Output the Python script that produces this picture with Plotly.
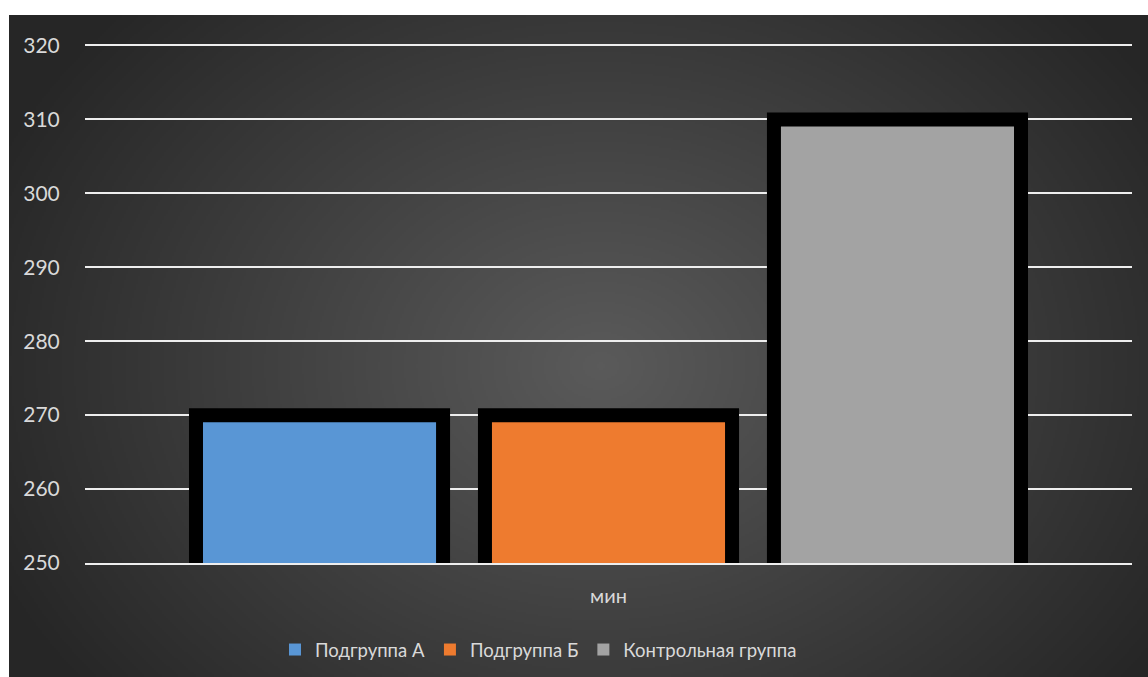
import base64
import struct
import zlib

import numpy as np
import plotly.graph_objects as go

# ---- data -------------------------------------------------------------
categories = ["мин"]
series_names = ["Подгруппа А", "Подгруппа Б", "Контрольная группа"]
series_values = [[270], [270], [310]]
series_colors = ["#5996d5", "#ee7b2f", "#a3a3a3"]
y_ticks = [250, 260, 270, 280, 290, 300, 310, 320]

# ---- page geometry ----------------------------------------------------
W, H = 1148, 677
M_L, M_R, M_T, M_B = 85, 16, 44, 114
plot_w = W - M_L - M_R
plot_h = H - M_T - M_B
TEXT = "#d9d9d9"
FONT = "Lato"


def radial_png(w, h, cx, cy, rx, ry, inner, outer):
    """Encode a soft elliptical gradient as a PNG data URI."""
    ys, xs = np.mgrid[0:h, 0:w].astype(float)
    r = np.sqrt(((xs - cx) / rx) ** 2 + ((ys - cy) / ry) ** 2)
    t = np.clip(r, 0, 1)[..., None]
    inner = np.array(inner, float)
    outer = np.array(outer, float)
    img = (inner * (1 - t) + outer * t).round().astype(np.uint8)
    raw = b"".join(b"\x00" + img[i].tobytes() for i in range(h))

    def chunk(tag, data):
        return (struct.pack(">I", len(data)) + tag + data
                + struct.pack(">I", zlib.crc32(tag + data) & 0xFFFFFFFF))

    png = (b"\x89PNG\r\n\x1a\n"
           + chunk(b"IHDR", struct.pack(">IIBBBBB", w, h, 8, 2, 0, 0, 0))
           + chunk(b"IDAT", zlib.compress(raw, 9))
           + chunk(b"IEND", b""))
    return "data:image/png;base64," + base64.b64encode(png).decode()


# background panel: dark with a lighter centre
bg_x0, bg_y0 = 9, 15
bg_w, bg_h = W - bg_x0, H - bg_y0
bg_src = radial_png(bg_w // 2, bg_h // 2,
                    cx=295, cy=175, rx=330, ry=260,
                    inner=(0x5a, 0x5a, 0x5a), outer=(0x26, 0x26, 0x26))

fig = go.Figure()

for name, vals, col in zip(series_names, series_values, series_colors):
    fig.add_trace(go.Bar(
        x=categories, y=vals, name=name,
        marker=dict(color=col, line=dict(color="#000000", width=14)),
        showlegend=False, hoverinfo="skip",
    ))

# legend entries as plain coloured squares
for name, col in zip(series_names, series_colors):
    fig.add_trace(go.Scatter(
        x=[None], y=[None], mode="markers", name=name,
        marker=dict(symbol="square", size=12, color=col),
    ))

fig.update_layout(
    width=W, height=H,
    margin=dict(l=M_L, r=M_R, t=M_T, b=M_B, pad=0, autoexpand=False),
    paper_bgcolor="#ffffff",
    plot_bgcolor="rgba(0,0,0,0)",
    barmode="group",
    bargap=0.172,
    bargroupgap=0.145,
    font=dict(family=FONT, size=21, color=TEXT),
    showlegend=True,
    legend=dict(
        orientation="h", x=0.5 - 70 / plot_w, xanchor="center",
        y=(plot_h - (650 - M_T)) / plot_h, yanchor="middle",
        bgcolor="rgba(0,0,0,0)", font=dict(family=FONT, size=18.5, color=TEXT),
        itemclick=False, itemdoubleclick=False,
    ),
    images=[dict(
        source=bg_src, xref="paper", yref="paper",
        x=(bg_x0 - M_L) / plot_w, y=(H - M_B - bg_y0) / plot_h,
        sizex=bg_w / plot_w, sizey=bg_h / plot_h,
        xanchor="left", yanchor="top", sizing="stretch", layer="below",
    )],
)

fig.update_xaxes(
    type="category", range=[-0.5, 0.5],
    showgrid=False, zeroline=False,
    showline=True, linecolor="#eeeeee", linewidth=2,
    ticks="outside", ticklen=14, tickcolor="rgba(0,0,0,0)",
    tickfont=dict(family=FONT, size=20, color=TEXT),
)
fig.update_yaxes(
    # a little headroom so the top gridline is not dropped at the plot edge
    range=[y_ticks[0], y_ticks[-1] + 0.2],
    tickvals=y_ticks,
    showgrid=True, gridcolor="#eeeeee", gridwidth=2,
    zeroline=False, showline=False,
    ticks="outside", ticklen=20, tickcolor="rgba(0,0,0,0)",
    tickfont=dict(family=FONT, size=21, color=TEXT),
)

fig.write_html("out.html")
